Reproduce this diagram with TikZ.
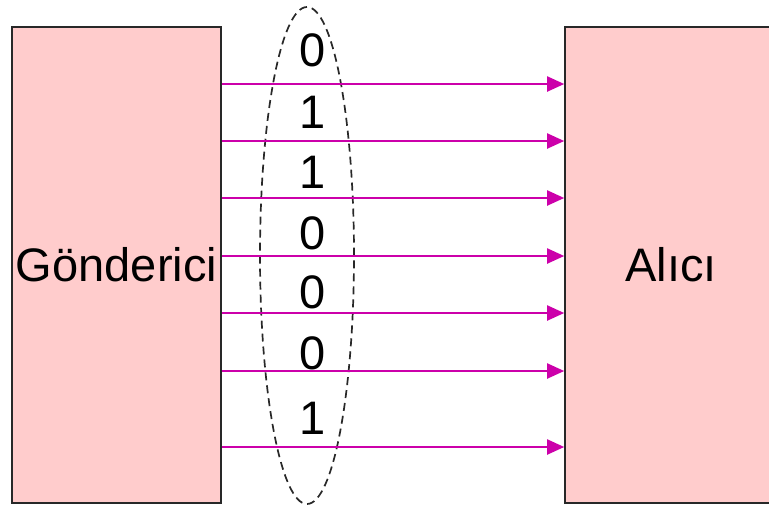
\documentclass[tikz,border=0pt]{standalone}
\usepackage{fontspec}
\setmainfont{Liberation Sans}
\usetikzlibrary{arrows.meta,shapes.geometric}
\definecolor{boxfill}{RGB}{255,204,204}
\definecolor{wire}{RGB}{204,0,170}
\definecolor{edge}{RGB}{40,40,40}
\tikzset{
  unit/.style={draw=edge, line width=1.6pt, fill=boxfill, inner sep=0pt,
    font=\fontsize{47}{56}\selectfont},
  wirearrow/.style={wire, line width=2pt, -{Triangle[length=17pt,width=15pt]}},
  bit/.style={font=\fontsize{47}{56}\selectfont, inner sep=0pt},
  group/.style={ellipse, draw=edge, dashed, dash pattern=on 8pt off 5pt, line width=1.7pt, inner sep=0pt}
}
\begin{document}
\begin{tikzpicture}[x=1pt,y=-1pt]
\useasboundingbox (0,0) rectangle (769,507);
\node[group, minimum width=94pt, minimum height=497pt] (grp) at (307,255.5) {};
\node[unit, minimum width=209pt, minimum height=476pt] (sender) at (116.5,265) {Gönderici};
\node[unit, minimum width=212pt, minimum height=476pt] (receiver) at (671,265) {Alıcı};
\foreach \y/\n in {84/a,141/b,198/c,256/d,313/e,371/f,447/g}{
  \draw[wirearrow] (sender.east |- 0,\y) -- (receiver.west |- 0,\y);
}
\node[bit] (b1) at (313,50) {0};
\node[bit] (b2) at (313,112) {1};
\node[bit] (b3) at (313,172) {1};
\node[bit] (b4) at (313,233) {0};
\node[bit] (b5) at (313,292) {0};
\node[bit] (b6) at (313,353) {0};
\node[bit] (b7) at (313,418) {1};
\end{tikzpicture}
\end{document}
